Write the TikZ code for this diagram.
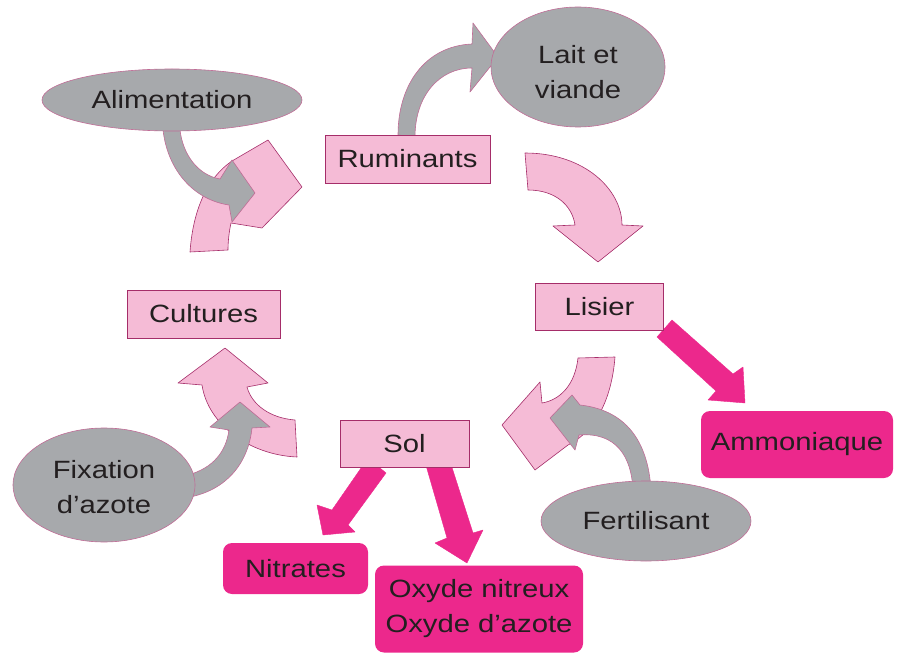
\documentclass[tikz,border=0pt]{standalone}
\usepackage{fontspec}
\setmainfont[FakeStretch=1.17]{Liberation Sans}
\usetikzlibrary{shapes.geometric}
\definecolor{pinkfill}{RGB}{245,187,214}
\definecolor{pinkline}{RGB}{165,45,105}
\definecolor{grayfill}{RGB}{167,169,172}
\definecolor{magenta}{RGB}{236,40,140}
\definecolor{txt}{RGB}{35,31,32}
\tikzset{
  lbl/.style={font=\fontsize{25}{35}\selectfont, text=txt, align=center, inner sep=0pt},
  pinkbox/.style={lbl, draw=pinkline, line width=0.8pt, fill=pinkfill, rectangle},
  magbox/.style={lbl, fill=magenta, rectangle, rounded corners=9pt},
  grayell/.style={lbl, ellipse, draw=pinkline!70, line width=0.6pt, fill=grayfill},
  pinkarrow/.style={draw=pinkline, line width=0.6pt, fill=pinkfill, line join=round},
  grayarrow/.style={draw=pinkline!70, line width=0.6pt, fill=grayfill, line join=round},
  magarrow/.style={fill=magenta, draw=magenta, line width=0.4pt, line join=round}
}
\begin{document}
\begin{tikzpicture}[x=1pt,y=-1pt]
\useasboundingbox (0,0) rectangle (905,655);
% pink cycle arrows
\draw[pinkarrow] (190,252) .. controls (193,210) and (207,178) .. (232,161) -- (268,140) -- (302,187) -- (262,228) -- (231,223) .. controls (229,232) and (228,242) .. (228,250) -- cycle;
\draw[pinkarrow] (525,153) .. controls (585,153) and (622,190) .. (622,225) -- (643,226) -- (598,262) -- (553,226) -- (575,225) .. controls (572,205) and (555,190) .. (528,190) -- cycle;
\draw[pinkarrow] (578,358) -- (615,357) .. controls (612,395) and (598,430) .. (568,445) -- (535,470) -- (502,425) -- (540,382) -- (542,403) .. controls (560,400) and (575,385) .. (578,358) -- cycle;
\draw[pinkarrow] (225,348) -- (268,383) -- (247,387) .. controls (252,405) and (270,418) .. (295,420) -- (297,457) .. controls (250,455) and (208,425) .. (202,385) -- (178,383) -- cycle;
% gray arrows
\draw[grayarrow] (180,130) .. controls (183,155) and (198,175) .. (220,179) -- (232,160) -- (255,193) -- (232,222) -- (229,205) .. controls (195,200) and (168,172) .. (163,130) -- cycle;
\draw[grayarrow] (398,135) .. controls (398,85) and (425,46) .. (472,44) -- (473,23) -- (498,57) -- (470,92) -- (472,68) .. controls (440,68) and (415,95) .. (415,137) -- cycle;
\draw[grayarrow] (651,490) .. controls (648,440) and (625,410) .. (580,405) -- (572,395) -- (550,418) -- (575,450) -- (579,435) .. controls (615,432) and (632,455) .. (633,492) -- cycle;
\draw[grayarrow] (240,402) -- (270,427) -- (252,428) .. controls (248,465) and (225,490) .. (190,497) -- (188,475) .. controls (213,468) and (226,452) .. (229,430) -- (210,427) -- cycle;
% magenta arrows
\draw[magarrow] (672,320) -- (733,374) -- (743,367) -- (745,403) -- (708,400) -- (716,391) -- (657,337) -- cycle;
\draw[magarrow] (368,458) -- (386,473) -- (348,525) -- (355,532) -- (323,535) -- (317,505) -- (332,510) -- cycle;
\draw[magarrow] (425,462) -- (448,455) -- (473,533) -- (483,530) -- (467,563) -- (435,543) -- (447,538) -- cycle;
% ellipses
\node[grayell, minimum width=260pt, minimum height=62pt] (alim) at (172,100) {Alimentation};
\node[grayell, minimum width=174pt, minimum height=120pt] (lait) at (578,67) {\rule{0pt}{28pt}Lait et\\viande};
\node[grayell, minimum width=210pt, minimum height=80pt] (fert) at (646,521) {Fertilisant};
\node[grayell, minimum width=182pt, minimum height=114pt] (fix) at (104,485) {\rule{0pt}{22pt}Fixation\\d'azote};
% boxes
\node[pinkbox, minimum width=165pt, minimum height=48pt] (rum) at (407.5,159) {Ruminants};
\node[pinkbox, minimum width=128pt, minimum height=47pt] (lis) at (599.5,306.5) {Lisier};
\node[pinkbox, minimum width=153pt, minimum height=48pt] (cult) at (203.5,314) {Cultures};
\node[pinkbox, minimum width=129pt, minimum height=47pt] (sol) at (404.5,443.5) {Sol};
\node[magbox, minimum width=192pt, minimum height=67pt] (amm) at (797,444.5) {Ammoniaque};
\node[magbox, minimum width=145pt, minimum height=51pt] (nit) at (295.5,568.5) {Nitrates};
\node[magbox, minimum width=208pt, minimum height=87pt] (oxy) at (479,609) {Oxyde nitreux\\Oxyde d'azote};
\end{tikzpicture}
\end{document}
